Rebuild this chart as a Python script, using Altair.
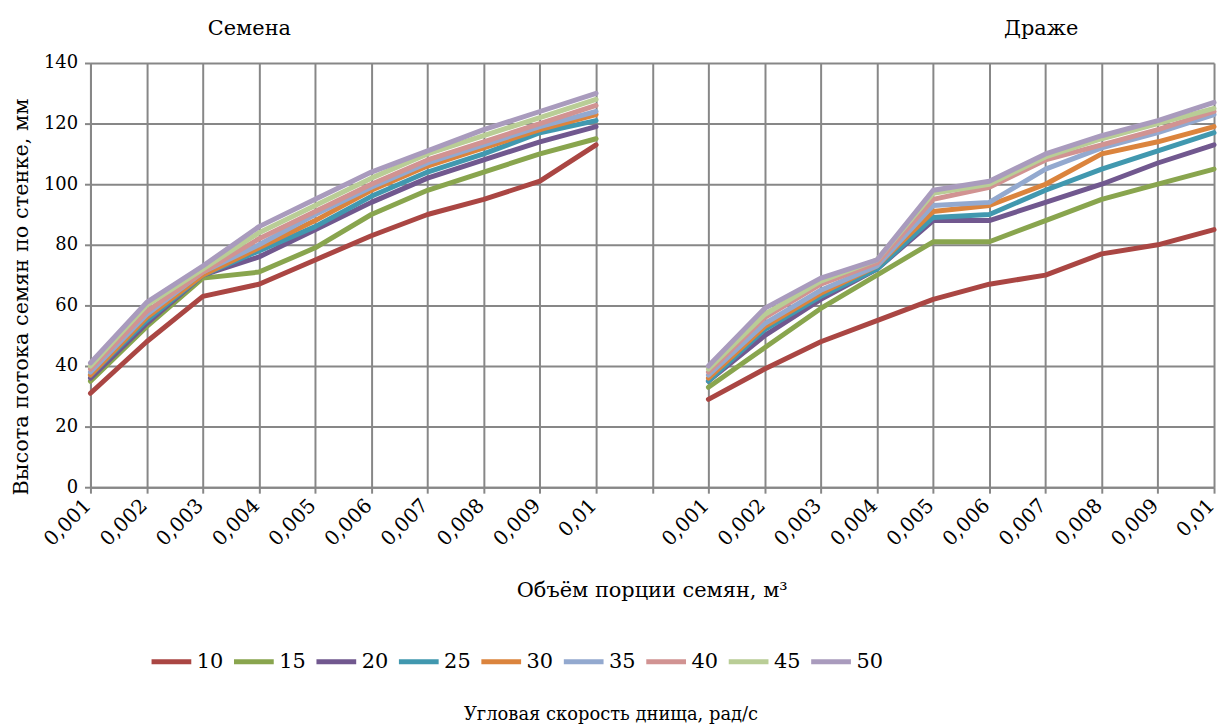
import altair as alt
import pandas as pd

volumes = ["0,001", "0,002", "0,003", "0,004", "0,005",
           "0,006", "0,007", "0,008", "0,009", "0,01"]
speeds = ["10", "15", "20", "25", "30", "35", "40", "45", "50"]
colors = ["#AA4643", "#89A54E", "#71588F", "#4198AF", "#DB843D",
          "#93A9CF", "#D19392", "#B9CD96", "#A99BBD"]

panel_names = ["Семена", "Драже"]

# Семена (seeds)
seeds_10 = [31, 48, 63, 67, 75, 83, 90, 95, 101, 113]
seeds_15 = [35, 53, 69, 71, 79, 90, 98, 104, 110, 115]
seeds_20 = [36, 54, 70, 76, 85, 94, 102, 108, 114, 119]
seeds_25 = [37, 55, 70, 78, 86, 96, 104, 110, 117, 121]
seeds_30 = [37, 56, 70, 79, 88, 98, 106, 112, 118, 123]
seeds_35 = [38, 57, 71, 80, 90, 99, 107, 113, 119, 124]
seeds_40 = [39, 58, 71, 82, 91, 100, 108, 114, 120, 126]
seeds_45 = [40, 60, 72, 84, 93, 102, 110, 116, 122, 128]
seeds_50 = [41, 61, 73, 86, 95, 104, 111, 118, 124, 130]

# Драже (dragee)
drag_10 = [29, 39, 48, 55, 62, 67, 70, 77, 80, 85]
drag_15 = [33, 46, 59, 70, 81, 81, 88, 95, 100, 105]
drag_20 = [35, 50, 62, 72, 88, 88, 94, 100, 107, 113]
drag_25 = [35, 52, 63, 72, 89, 90, 98, 105, 111, 117]
drag_30 = [36, 53, 64, 73, 91, 93, 100, 110, 114, 119]
drag_35 = [37, 54, 65, 73, 93, 94, 105, 112, 117, 123]
drag_40 = [38, 56, 67, 74, 95, 99, 108, 113, 118, 124]
drag_45 = [39, 57, 68, 75, 97, 100, 109, 115, 120, 125]
drag_50 = [40, 59, 69, 75, 98, 101, 110, 116, 121, 127]

seeds = [seeds_10, seeds_15, seeds_20, seeds_25, seeds_30,
         seeds_35, seeds_40, seeds_45, seeds_50]
dragee = [drag_10, drag_15, drag_20, drag_25, drag_30,
          drag_35, drag_40, drag_45, drag_50]

tick_labels = volumes + [""] + volumes

rows = []
for si, s in enumerate(speeds):
    for i, v in enumerate(seeds[si]):
        rows.append({"speed": s, "panel": panel_names[0], "pos": i, "h": v})
    for i, v in enumerate(dragee[si]):
        rows.append({"speed": s, "panel": panel_names[1], "pos": i + 11, "h": v})
df = pd.DataFrame(rows)

label_expr = "[" + ",".join("'" + t + "'" for t in tick_labels) + "][datum.value]"

FONT = "DejaVu Serif"

lines = alt.Chart(df).mark_line(strokeWidth=5, strokeJoin="round", strokeCap="round").encode(
    x=alt.X("pos:Q",
            scale=alt.Scale(domain=[0, len(tick_labels) - 1], nice=False, zero=False),
            axis=alt.Axis(values=list(range(len(tick_labels))), labelExpr=label_expr,
                          labelAngle=315, labelAlign="right", labelBaseline="middle",
                          labelFontSize=20, labelPadding=9, labelOffset=-3, labelFont=FONT,
                          title="Объём порции семян, м³", titleFontSize=21,
                          titleFontWeight="normal", titleFont=FONT,
                          titleX=565, titleY=104, titleBaseline="middle")),
    y=alt.Y("h:Q",
            scale=alt.Scale(domain=[0, 140], nice=False),
            axis=alt.Axis(values=list(range(0, 141, 20)), labelFontSize=18, labelPadding=7,
                          labelFont=FONT,
                          title="Высота потока семян  по стенке, мм", titleFontSize=21,
                          titleFontWeight="normal", titleFont=FONT,
                          titleX=-69, titleY=235, titleAngle=270,
                          titleAlign="center", titleBaseline="middle")),
    color=alt.Color("speed:N", scale=alt.Scale(domain=speeds, range=colors),
                    legend=alt.Legend(orient="none", legendX=59, legendY=580,
                                      direction="horizontal", title=None,
                                      symbolType="stroke", symbolSize=1600,
                                      symbolStrokeWidth=5, labelFontSize=21,
                                      labelOffset=3, columnPadding=0,
                                      labelFont=FONT)),
    detail="panel:N",
    order=alt.Order("pos:Q"),
)

title_left = alt.Chart(pd.DataFrame({"t": [panel_names[0]]})).mark_text(
    fontSize=21, font=FONT, baseline="middle").encode(
    text="t:N", x=alt.value(160), y=alt.value(-34))

title_right = alt.Chart(pd.DataFrame({"t": [panel_names[1]]})).mark_text(
    fontSize=21, font=FONT, baseline="middle").encode(
    text="t:N", x=alt.value(957), y=alt.value(-34))

legend_title = alt.Chart(pd.DataFrame({"t": ["Угловая скорость днища, рад/с"]})).mark_text(
    fontSize=18, font=FONT, baseline="middle").encode(
    text="t:N",
    x=alt.value(524),
    y=alt.value(656),
)

chart = alt.layer(lines, title_left, title_right, legend_title).properties(
    width=1131, height=427,
    autosize=alt.AutoSizeParams(type="none"),
    padding={"left": 83, "top": 53, "right": 4, "bottom": 238},
).configure(
    font=FONT,
).configure_view(
    strokeWidth=0,
).configure_axis(
    gridColor="#878787", gridWidth=2, gridOpacity=1,
    domainColor="#878787", domainWidth=2,
    tickColor="#878787", tickWidth=2, tickSize=6,
    labelColor="#000000", titleColor="#000000",
)

chart.save("out.html", embed_options={"renderer": "svg", "actions": False})
